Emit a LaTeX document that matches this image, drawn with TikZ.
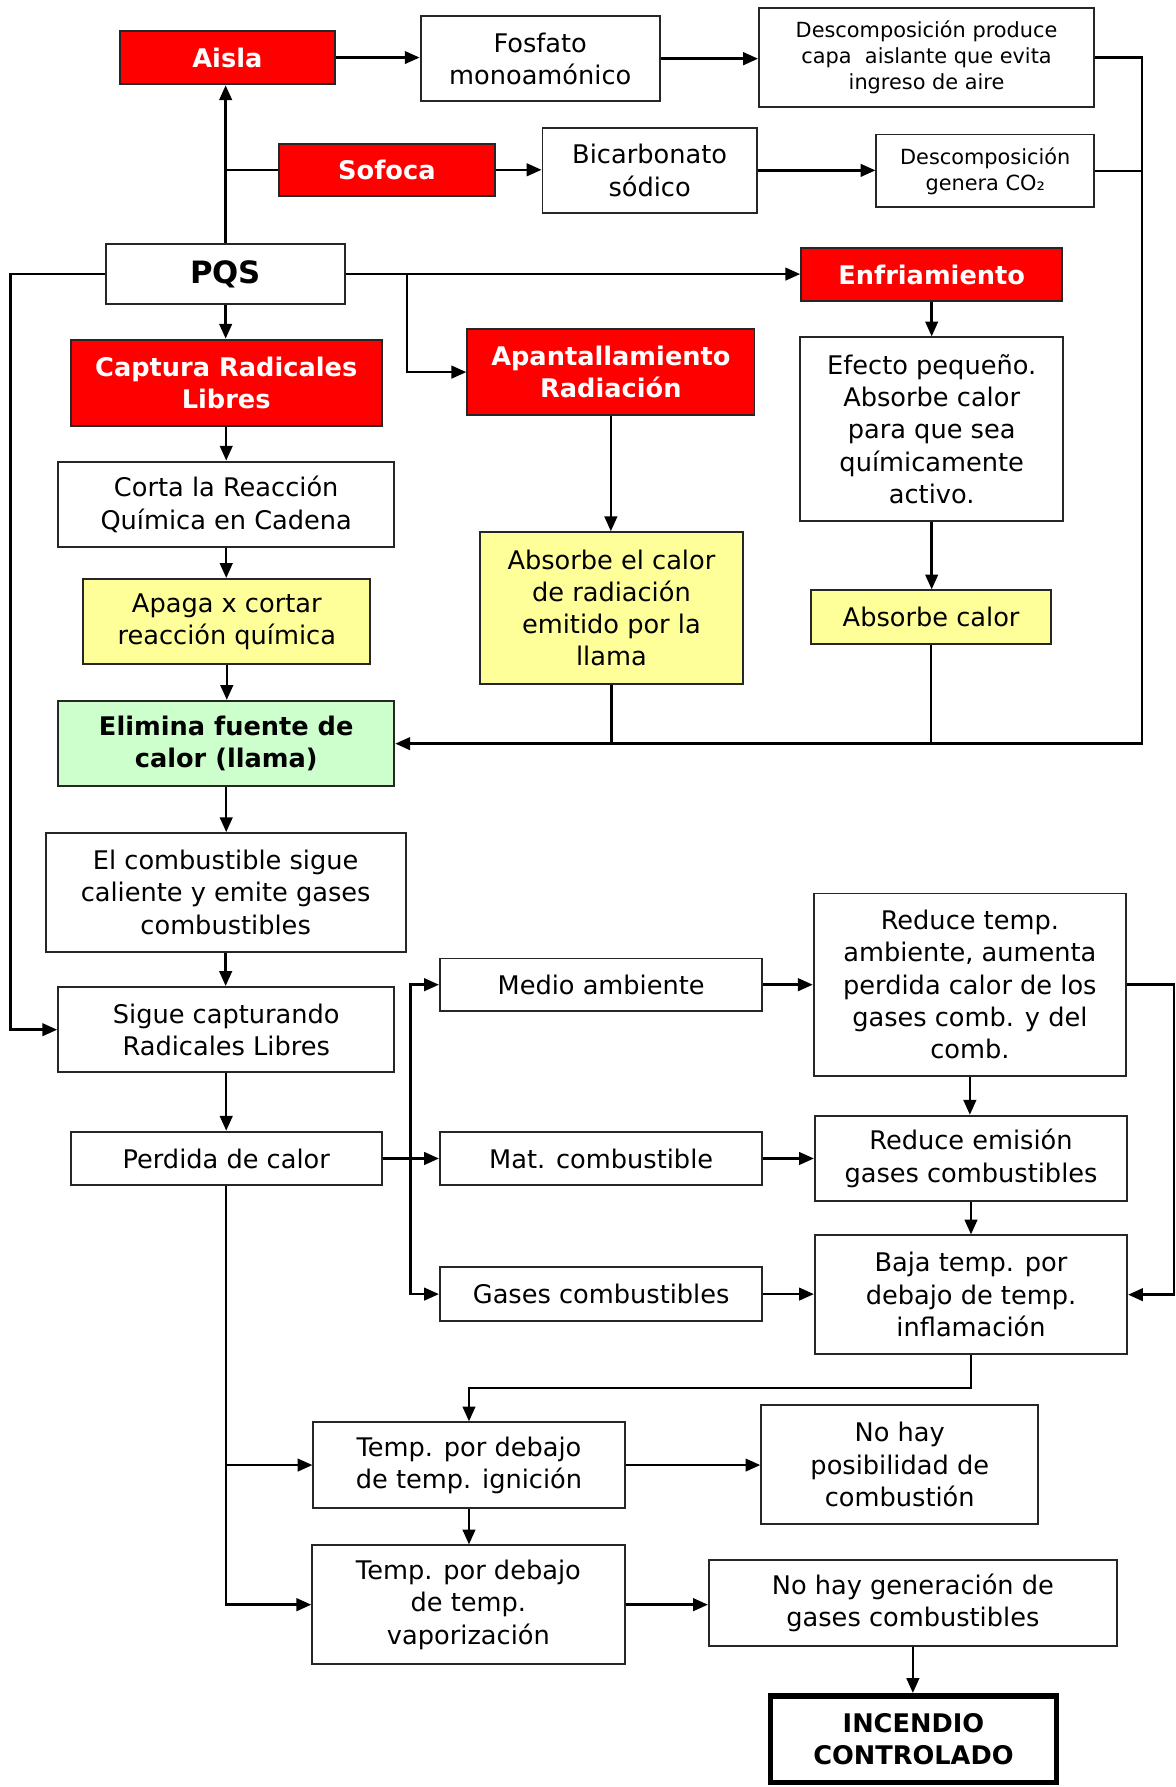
\documentclass[tikz,border=0pt]{standalone}
\usepackage{fontspec}
\setmainfont{DejaVu Sans}
\usetikzlibrary{arrows.meta}
\definecolor{yellowc}{RGB}{255,255,153}
\definecolor{greenc}{RGB}{204,255,204}
\newcommand\fsm{\fontsize{22.5}{28.3}\selectfont}
\newcommand\fss{\fontsize{18.3}{23}\selectfont}
\newcommand\fsb{\fontsize{27}{32}\selectfont}
\newcommand\bnode[7]{\node[#1, minimum width=#5pt, minimum height=#6pt] (#2) at (#3,#4) {#7};}
\tikzset{
  bx/.style={draw=black!85, line width=1.7pt, fill=white, inner sep=0pt, align=center, font=\fsm},
  rd/.style={bx, fill=red, text=white, font=\fsm\bfseries},
  yl/.style={bx, fill=yellowc},
  gr/.style={bx, fill=greenc, font=\fsm\bfseries},
  sm/.style={bx, font=\fss},
  ar/.style={line width=2.2pt, -{Triangle[length=13pt,width=11pt]}},
  ln/.style={line width=2.2pt},
}
\begin{document}
\begin{tikzpicture}[x=1pt,y=-1pt]
\useasboundingbox (0,0) rectangle (1031,1568);
% nodes
\bnode{rd}{aisla}{199.5}{50.5}{189}{47}{Aisla}
\bnode{bx}{fosfato}{474}{51.5}{210}{75}{Fosfato\\monoamónico}
\bnode{sm}{descprod}{813}{50.5}{294}{87}{Descomposición produce\\capa~ aislante que evita\\ingreso de aire}
\bnode{rd}{sofoca}{339.5}{149}{189}{46}{Sofoca}
\bnode{bx}{bicarb}{570}{149.5}{188}{75}{Bicarbonato\\sódico}
\bnode{sm}{descgen}{864.5}{150}{191}{64}{Descomposición\\genera CO₂}
\node[bx, font=\fsb\bfseries, minimum width=210pt, minimum height=53pt] (pqs) at (198,240.5) {PQS};
\bnode{rd}{enfri}{817.5}{241}{229}{46}{Enfriamiento}
\bnode{rd}{captura}{198.5}{336}{273}{76}{Captura Radicales\\Libres}
\bnode{rd}{apant}{536}{326.5}{252}{75}{Apantallamiento\\Radiación}
\bnode{bx}{efecto}{817.5}{376.5}{231}{161}{Efecto pequeño.\\Absorbe calor\\para que sea\\químicamente\\activo.}
\bnode{bx}{corta}{198.5}{442.5}{295}{75}{Corta la Reacción\\Química en Cadena}
\bnode{yl}{apaga}{199}{545.5}{252}{75}{Apaga x cortar\\reacción química}
\bnode{yl}{absrad}{536.5}{533.5}{231}{133}{Absorbe el calor\\de radiación\\emitido por la\\llama}
\bnode{yl}{abscal}{817}{541.5}{210}{47}{Absorbe calor}
\bnode{gr}{elimina}{198.5}{652.5}{295}{75}{Elimina fuente de\\calor (llama)}
\bnode{bx}{elcomb}{198}{783}{316}{104}{El combustible sigue\\caliente y emite gases\\combustibles}
\bnode{bx}{sigue}{198.5}{903.5}{295}{75}{Sigue capturando\\Radicales Libres}
\bnode{bx}{perdida}{198.5}{1016.5}{273}{47}{Perdida de calor}
\bnode{bx}{medio}{527.5}{864}{283}{46}{Medio ambiente}
\bnode{bx}{mat}{527.5}{1016.5}{283}{47}{Mat. combustible}
\bnode{bx}{gases}{527.5}{1135.5}{283}{47}{Gases combustibles}
\bnode{bx}{redtemp}{851}{864}{274}{160}{Reduce temp.\\ambiente, aumenta\\perdida calor de los\\gases comb. y del\\comb.}
\bnode{bx}{redemi}{852}{1016.5}{274}{75}{Reduce emisión\\gases combustibles}
\bnode{bx}{baja}{852}{1136}{274}{104}{Baja temp. por\\debajo de temp.\\inflamación}
\bnode{bx}{tign}{411.5}{1285.5}{273}{75}{Temp. por debajo\\de temp. ignición}
\bnode{bx}{nohaypos}{789.5}{1285}{243}{104}{No hay\\posibilidad de\\combustión}
\bnode{bx}{tvap}{411}{1408}{274}{104}{Temp. por debajo\\de temp.\\vaporización}
\bnode{bx}{nohaygen}{801}{1406.5}{358}{75}{No hay generación de\\gases combustibles}
\node[bx, line width=5pt, draw=black, font=\fsm\bfseries, minimum width=251pt, minimum height=76pt] (incendio) at (801.5,1526) {INCENDIO\\CONTROLADO};
% helper coordinates
\coordinate (rx) at (1002,652.5);
\coordinate (bx1) at (357,240.5);
\coordinate (lx) at (9,240.5);
\coordinate (mx) at (360,1016.5);
\coordinate (rx2) at (1030,864);
\coordinate (by) at (851,1218);
% connectors
\draw[ar] (pqs.north) -- (pqs.north |- aisla.south);
\draw[ln] (sofoca.west) -- (pqs.north |- sofoca.west);
\draw[ar] (aisla.east) -- (aisla.east -| fosfato.west);
\draw[ar] (fosfato.east) -- (fosfato.east -| descprod.west);
\draw[ar] (sofoca.east) -- (sofoca.east -| bicarb.west);
\draw[ar] (bicarb.east) -- (bicarb.east -| descgen.west);
\draw[ar] (descprod.east) -| (rx) -- (rx -| elimina.east);
\draw[ln] (descgen.east) -- (descgen.east -| rx);
\draw[ln] (absrad.south) -- (absrad.south |- rx);
\draw[ln] (abscal.south) -- (abscal.south |- rx);
\draw[ar] (pqs.east) -- (pqs.east -| enfri.west);
\draw[ar] (bx1) |- (apant.west);
\draw[ar] (pqs.west) -- (lx) |- (sigue.west);
\draw[ar] (pqs.south) -- (pqs.south |- captura.north);
\draw[ar] (captura.south) -- (captura.south |- corta.north);
\draw[ar] (corta.south) -- (corta.south |- apaga.north);
\draw[ar] (apaga.south) -- (apaga.south |- elimina.north);
\draw[ar] (elimina.south) -- (elimina.south |- elcomb.north);
\draw[ar] (elcomb.south) -- (elcomb.south |- sigue.north);
\draw[ar] (sigue.south) -- (sigue.south |- perdida.north);
\draw[ar] (apant.south) -- (apant.south |- absrad.north);
\draw[ar] (enfri.south) -- (enfri.south |- efecto.north);
\draw[ar] (efecto.south) -- (efecto.south |- abscal.north);
\draw[ar] (perdida.east) -- (mat.west);
\draw[ar] (mx) |- (medio.west);
\draw[ar] (mx) |- (gases.west);
\draw[ar] (medio.east) -- (medio.east -| redtemp.west);
\draw[ar] (mat.east) -- (mat.east -| redemi.west);
\draw[ar] (gases.east) -- (gases.east -| baja.west);
\draw[ar] (redtemp.south) -- (redtemp.south |- redemi.north);
\draw[ar] (redemi.south) -- (redemi.south |- baja.north);
\draw[ar] (redtemp.east) -- (rx2) |- (baja.east);
\draw[ar] (baja.south) -- (baja.south |- by) -| (tign.north);
\draw[ar] (perdida.south) |- (tvap.west);
\draw[ar] (perdida.south |- tign.west) -- (tign.west);
\draw[ar] (tign.east) -- (tign.east -| nohaypos.west);
\draw[ar] (tign.south) -- (tign.south |- tvap.north);
\draw[ar] (tvap.east) -- (tvap.east -| nohaygen.west);
\draw[ar] (nohaygen.south) -- (nohaygen.south |- incendio.north);
\end{tikzpicture}
\end{document}
